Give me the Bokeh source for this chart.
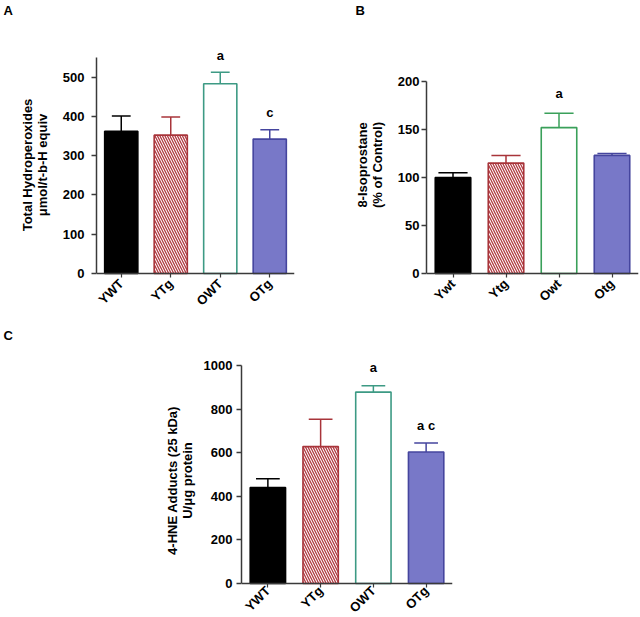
import math
from bokeh.plotting import figure
from bokeh.models import Range1d, FixedTicker
from bokeh.layouts import row, column
from bokeh.embed import file_html
from bokeh.resources import INLINE
from bokeh.core.properties import value

FONT = "Liberation Sans"

# ---- data ----
cats_a = ["YWT", "YTg", "OWT", "OTg"]
mean_a = [362, 352, 483, 342]
upper_a = [401, 398, 512, 366]
sig_a = ["", "", "a", "c"]
ticks_a = [0, 100, 200, 300, 400, 500]

cats_b = ["Ywt", "Ytg", "Owt", "Otg"]
mean_b = [100, 115, 152, 123]
upper_b = [105, 123, 167, 125]
sig_b = ["", "", "a", ""]
ticks_b = [0, 50, 100, 150, 200]

cats_c = ["YWT", "YTg", "OWT", "OTg"]
mean_c = [440, 628, 878, 603]
upper_c = [481, 754, 907, 644]
sig_c = ["", "", "a", "a c"]
ticks_c = [0, 200, 400, 600, 800, 1000]


def bar_styles(owt_color):
    return [
        dict(fill_color="black", line_color="black", hatch_pattern=None, hatch_color=None),
        dict(fill_color="white", line_color="#a8343a", hatch_pattern="\\", hatch_color="#b03a42"),
        dict(fill_color="white", line_color=owt_color, hatch_pattern=None, hatch_color=None),
        dict(fill_color="#7878c8", line_color="#45459e", hatch_pattern=None, hatch_color=None),
    ]


def make_panel(cats, means, uppers, sigs, ticks, ylabel, owt_color, width, height,
               bl, br, bt, y_start, y_end, bound, cap_w, sig_off, letter, title_offset,
               title_standoff, title_valign, label_standoff, ytick_standoff, xtick_standoff):
    n = len(cats)
    p = figure(width=width, height=height, output_backend="svg", toolbar_location=None,
               x_range=Range1d(-0.5, n - 0.5), y_range=Range1d(y_start, y_end),
               min_border_left=bl, min_border_right=br, min_border_top=bt,
               min_border_bottom=0, title=letter)
    p.outline_line_color = None
    p.xgrid.grid_line_color = None
    p.ygrid.grid_line_color = None
    p.background_fill_color = "white"

    p.title.text_font = FONT
    p.title.text_font_style = "bold"
    p.title.text_font_size = "13px"
    p.title.align = "left"
    p.title.vertical_align = title_valign
    p.title.offset = title_offset
    p.title.standoff = title_standoff
    p.title.text_color = "black"

    styles = bar_styles(owt_color)
    for i in range(n):
        st = styles[i]
        kw = dict(fill_color=st["fill_color"], line_color=st["line_color"], line_width=1.6)
        if st["hatch_pattern"]:
            kw.update(hatch_pattern=st["hatch_pattern"], hatch_color=st["hatch_color"],
                      hatch_scale=5, hatch_weight=1.3)
        p.vbar(x=[i], top=[means[i]], bottom=0, width=0.67, **kw)
        ec = st["line_color"]
        p.segment(x0=[i], y0=[means[i]], x1=[i], y1=[uppers[i]], line_color=ec, line_width=1.5)
        p.segment(x0=[i - cap_w / 2], y0=[uppers[i]], x1=[i + cap_w / 2], y1=[uppers[i]],
                  line_color=ec, line_width=1.5)

    p.text(x=list(range(n)), y=uppers, text=sigs, text_font=value(FONT),
           text_font_style="bold", text_font_size="13px", text_align="center",
           text_baseline="middle", y_offset=sig_off, text_color="black")

    # y axis
    ya = p.yaxis[0]
    ya.ticker = FixedTicker(ticks=ticks)
    ya.bounds = (0, bound)
    ya.minor_tick_line_color = None
    ya.major_tick_out = 5
    ya.major_tick_in = 0
    ya.major_label_standoff = ytick_standoff
    ya.axis_line_color = "#3a3a3a"
    ya.axis_line_width = 1.5
    ya.major_tick_line_color = "#3a3a3a"
    ya.major_tick_line_width = 1.5
    ya.major_label_text_font = FONT
    ya.major_label_text_font_style = "bold"
    ya.major_label_text_font_size = "13px"
    ya.major_label_text_color = "black"
    ya.axis_label = ylabel
    ya.axis_label_text_font = FONT
    ya.axis_label_text_font_style = "bold"
    ya.axis_label_text_font_size = "13px"
    ya.axis_label_text_color = "black"
    ya.axis_label_standoff = label_standoff
    ya.axis_label_text_line_height = 1.0

    # x axis sits at y = 0; its rotated category labels hang below it inside the frame
    xa = p.xaxis[0]
    xa.fixed_location = 0
    xa.ticker = FixedTicker(ticks=list(range(n)))
    xa.major_label_overrides = {i: c for i, c in enumerate(cats)}
    xa.major_label_orientation = math.pi / 4
    xa.major_label_standoff = xtick_standoff
    xa.minor_tick_line_color = None
    xa.major_tick_out = 4
    xa.major_tick_in = 0
    xa.axis_line_color = "#3a3a3a"
    xa.axis_line_width = 1.5
    xa.major_tick_line_color = "#3a3a3a"
    xa.major_tick_line_width = 1.2
    xa.major_label_text_font = FONT
    xa.major_label_text_font_style = "bold"
    xa.major_label_text_font_size = "13px"
    xa.major_label_text_color = "black"
    return p


# panel A: zero at y=273, 0.393 px per unit, frame 96..294, frame top at 19
pa = make_panel(cats_a, mean_a, upper_a, sig_a, ticks_a,
                "Total Hydroperoxides\n\u03bcmol/t-b-H equiv", "#3d9a84",
                314, 310, 96, 20, 19, -37 / 0.393, 254 / 0.393, 550, 0.38, -17, "A", -93, 0,
                "top", 10, 7, 4)

# panel B: zero at y=273, 0.96 px per unit, frame 426..638, frame top at 19
pb = make_panel(cats_b, mean_b, upper_b, sig_b, ticks_b,
                "8-Isoprostane\n(% of Control)", "#3aa05a",
                326, 310, 112, 2, 19, -37 / 0.96, 254 / 0.96, 200, 0.55, -20, "B", -71, 0,
                "top", 10, 2, 4)

# panel C: zero at y=583, 0.218 px per unit, frame 241..452
pc = make_panel(cats_c, mean_c, upper_c, sig_c, ticks_c,
                "4-HNE Adducts (25 kDa)\nU/\u03bcg protein", "#3d9a84",
                470, 307, 241, 18, 33, -34 / 0.218, 240 / 0.218, 1000, 0.45, -18, "C", -238, 2,
                "bottom", 6, 4, 1)

layout = column(row(pa, pb), row(pc))
open("out.html", "w").write(file_html(layout, INLINE))
